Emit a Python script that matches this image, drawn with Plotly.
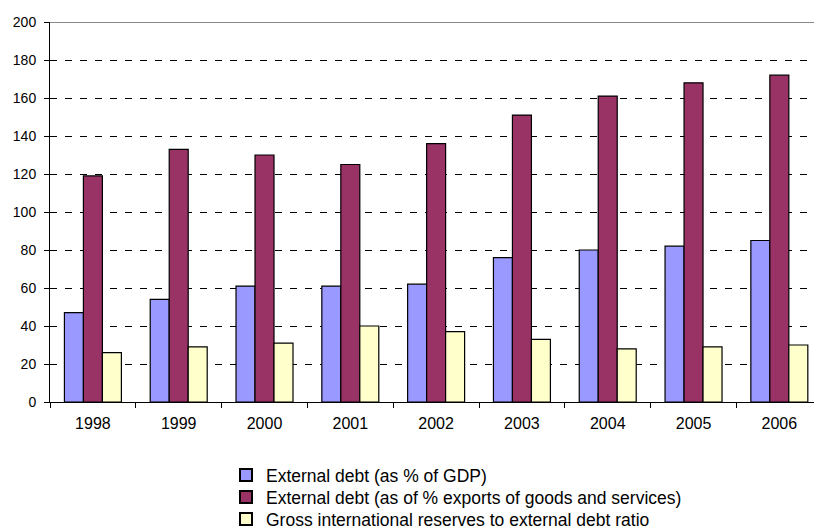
import plotly.graph_objects as go

years = ["1998", "1999", "2000", "2001", "2002", "2003", "2004", "2005", "2006"]
debt_gdp = [47, 54, 61, 61, 62, 76, 80, 82, 85]
debt_exports = [119, 133, 130, 125, 136, 151, 161, 168, 172]
reserves_ratio = [26, 29, 31, 40, 37, 33, 28, 29, 30]

series_names = [
    "External debt (as % of GDP)",
    "External debt (as of % exports of goods and services)",
    "Gross international reserves to external debt ratio",
]
series_values = [debt_gdp, debt_exports, reserves_ratio]
series_colors = ["#9999FF", "#993366", "#FFFFCC"]
legend_ids = ["legend", "legend2", "legend3"]

FONT = "Liberation Sans, Arial, sans-serif"

# plot area in pixels: left 50, top 22, bottom 402
PLOT_TOP, PLOT_BOTTOM, PLOT_LEFT, PLOT_W = 22, 402, 50, 764

fig = go.Figure()
for name, vals, col, lg in zip(series_names, series_values, series_colors, legend_ids):
    fig.add_trace(go.Bar(
        x=years, y=vals, name=name, legend=lg,
        marker=dict(color=col, line=dict(color="#000000", width=1.2)),
    ))

layout_legends = {}
row_centres = [475, 497, 519]
for lg, yc in zip(legend_ids, row_centres):
    layout_legends[lg] = dict(
        xref="paper", yref="paper",
        x=(226 - PLOT_LEFT) / PLOT_W,
        y=(PLOT_BOTTOM - yc) / (PLOT_BOTTOM - PLOT_TOP),
        xanchor="left", yanchor="middle",
        font=dict(size=17.5, family=FONT, color="#000000"),
        itemsizing="constant",
        bgcolor="rgba(0,0,0,0)",
    )

fig.update_layout(
    width=814, height=532,
    margin=dict(l=PLOT_LEFT, r=0, t=PLOT_TOP, b=532 - PLOT_BOTTOM, autoexpand=False),
    paper_bgcolor="white", plot_bgcolor="white",
    barmode="group", bargap=0.336, bargroupgap=0,
    font=dict(family=FONT, color="#000000"),
    showlegend=True,
    **layout_legends,
)

fig.update_xaxes(
    type="category",
    range=[-0.5, 8.404],
    showline=True, linecolor="#000000", linewidth=1,
    ticks="outside", tickson="boundaries", ticklen=5, tickcolor="#000000",
    tickfont=dict(size=16, family=FONT, color="#000000"),
    tickangle=0,
    ticklabelstandoff=7,
    showgrid=False, zeroline=False,
)

fig.update_yaxes(
    range=[0, 200], dtick=20, tick0=0,
    showline=True, linecolor="#000000", linewidth=1,
    ticks="outside", ticklen=5, tickcolor="#000000",
    tickfont=dict(size=14, family=FONT, color="#000000"),
    ticklabelstandoff=5,
    showgrid=True, gridcolor="#000000", gridwidth=1, griddash="7px,8px",
    zeroline=False,
)

# solid grey border along the top of the plot area
fig.add_shape(
    type="line", xref="paper", yref="y",
    x0=0, x1=1, y0=200, y1=200,
    line=dict(color="#8a8a8a", width=2),
)

fig.write_html("out.html")
